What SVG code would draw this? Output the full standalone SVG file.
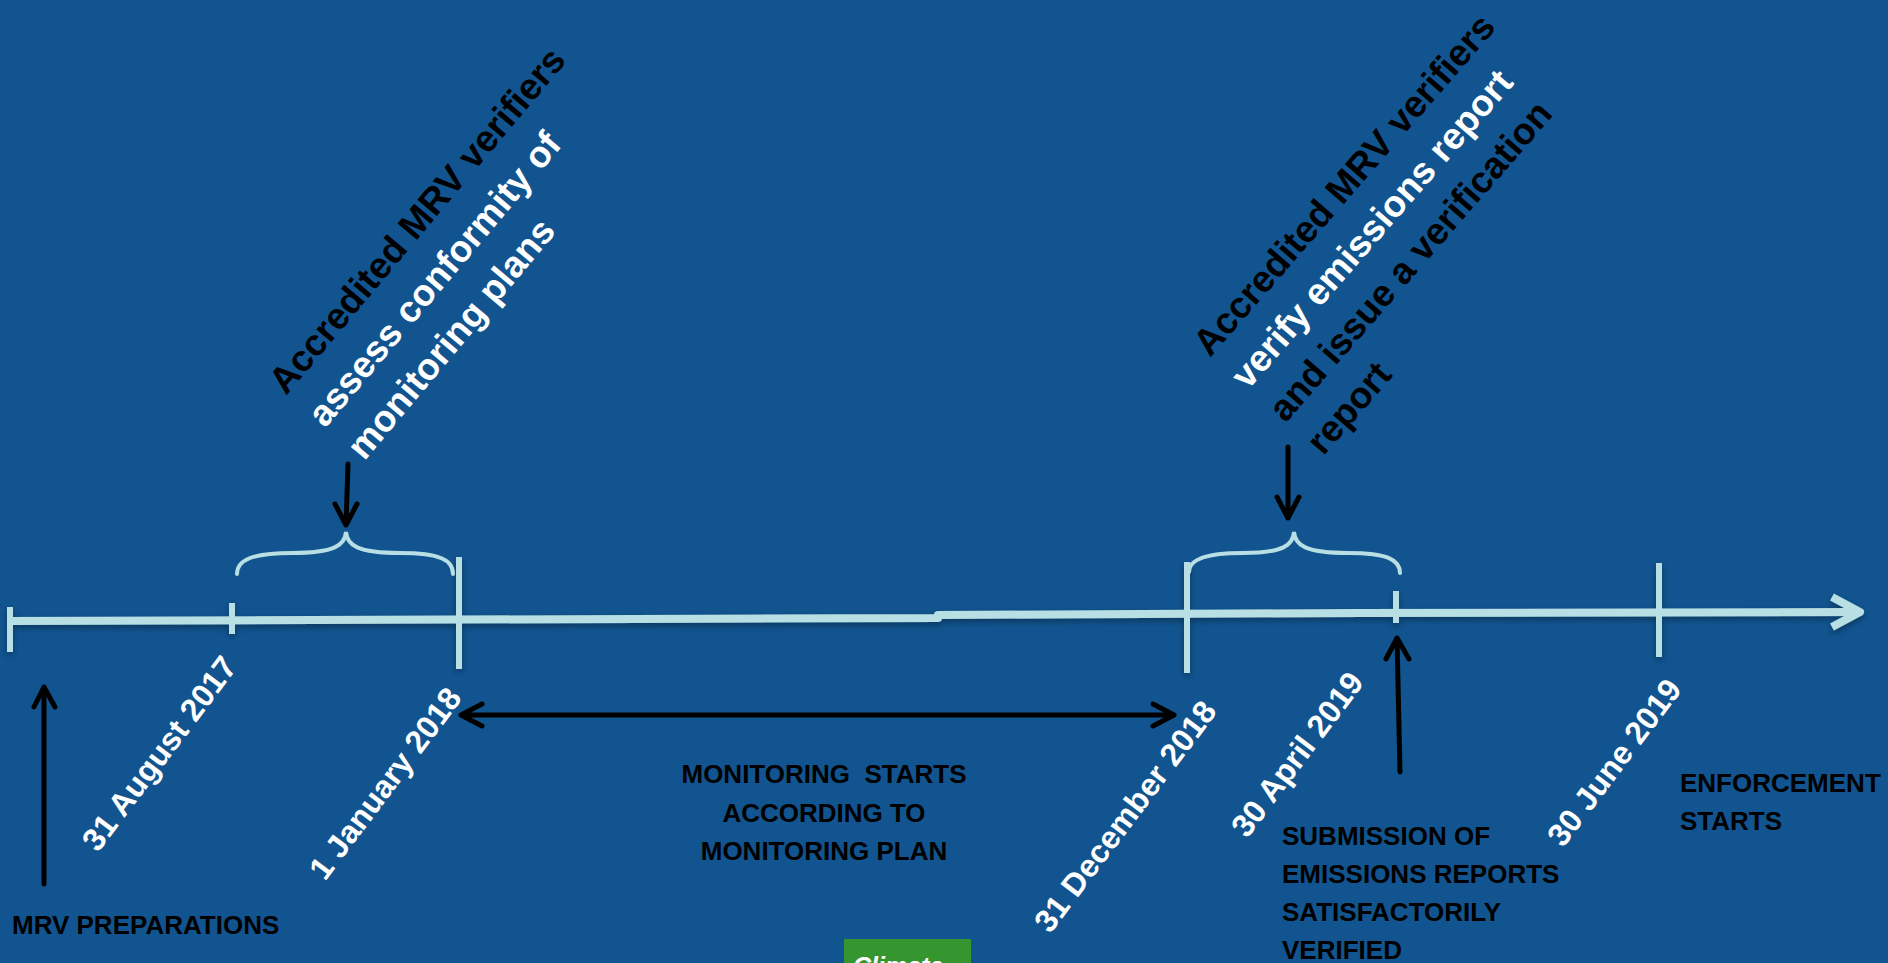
<svg xmlns="http://www.w3.org/2000/svg" width="1888" height="963" viewBox="0 0 1888 963">
<style>
.bg{fill:#11548F}
.tl{fill:none;stroke:#B8DFE3;stroke-width:8;stroke-linecap:butt;stroke-linejoin:round}
.tick{stroke:#B8DFE3;stroke-width:6}
.brace{fill:none;stroke:#B8DFE3;stroke-width:4;stroke-linecap:round}
.arr{fill:none;stroke:#000;stroke-width:5;stroke-linecap:round;stroke-linejoin:round}
.date{font-family:"Liberation Sans",Arial,sans-serif;font-weight:bold;font-size:32px;fill:#fff;text-anchor:middle}
.ann{font-family:"Liberation Sans",Arial,sans-serif;font-weight:bold;font-size:37px}
.lbl{font-family:"Liberation Sans",Arial,sans-serif;font-weight:bold;font-size:26px;fill:#000}
.w{fill:#fff}.k{fill:#000}
</style>
<defs>
<filter id="sh" x="-10%" y="-50%" width="120%" height="300%">
<feDropShadow dx="0" dy="3" stdDeviation="3" flood-color="#000" flood-opacity="0.35"/>
</filter>
</defs>
<rect class="bg" x="0" y="0" width="1888" height="963"/>

<g id="timeline" filter="url(#sh)">
<path class="tl" d="M10,621 L938,618 L938,615 L1360,613 L1858,612"/>
<path class="tl" d="M1832,597 L1860,612 L1832,627" stroke-linecap="round"/>
<line class="tick" x1="10" y1="607" x2="10" y2="652"/>
<line class="tick" x1="232" y1="603" x2="232" y2="634"/>
<line class="tick" x1="459" y1="557" x2="459" y2="669"/>
<line class="tick" x1="1187" y1="562" x2="1187" y2="673"/>
<line class="tick" x1="1396" y1="591" x2="1396" y2="623"/>
<line class="tick" x1="1659" y1="563" x2="1659" y2="657"/>
</g>

<g id="brace1">
<path class="brace" d="M237,574 C237,560 252,553 292,553 C335,553 345,545 346,532 C347,545 357,553 400,553 C440,553 453,560 453,574"/>
</g>
<g id="brace2">
<path class="brace" d="M1189,572 C1189,560 1204,553 1242,553 C1284,553 1293,545 1294,532 C1295,545 1305,553 1348,553 C1388,553 1400,560 1400,573"/>
</g>

<g id="connectors">
<path class="arr" d="M348,464 L346,525 M335,504 L346,525 L357,504"/>
<path class="arr" d="M1288,447 L1288,518 M1277,497 L1288,518 L1299,497"/>
<path class="arr" d="M44,884 L44,687 M34,707 L44,687 L55,707"/>
<path class="arr" d="M1400,772 L1397,638 M1386,659 L1397,638 L1409,659"/>
<path class="arr" d="M461,715 L1174,715 M482,704 L461,715 L482,726 M1153,704 L1174,715 L1153,726"/>
</g>

<g id="annotation1">
<g transform="translate(286,396) rotate(-50)">
<text class="ann k" x="0" y="0">Accredited MRV verifiers</text>
<text class="ann w" x="0" y="51">assess conformity of</text>
<text class="ann w" x="0" y="102">monitoring plans</text>
</g>
</g>
<g id="annotation2">
<g transform="translate(1210,358) rotate(-49)">
<text class="ann k" x="0" y="0">Accredited MRV verifiers</text>
<text class="ann w" x="0" y="50">verify emissions report</text>
<text class="ann k" x="0" y="100">and issue a verification</text>
<text class="ann k" x="0" y="150">report</text>
</g>
</g>

<g id="date-aug2017"><text class="date" transform="translate(168,760) rotate(-53)">31 August 2017</text></g>
<g id="date-jan2018"><text class="date" transform="translate(394,790) rotate(-53)">1 January 2018</text></g>
<g id="date-dec2018"><text class="date" transform="translate(1134,823) rotate(-53)">31 December 2018</text></g>
<g id="date-apr2019"><text class="date" transform="translate(1306,761) rotate(-53)">30 April 2019</text></g>
<g id="date-jun2019"><text class="date" transform="translate(1623,769) rotate(-53)">30 June 2019</text></g>

<g id="mrv-preparations"><text class="lbl" x="12" y="934" font-size="25">MRV PREPARATIONS</text></g>
<g id="monitoring-starts">
<text class="lbl" x="824" y="783" text-anchor="middle" xml:space="preserve">MONITORING  STARTS</text>
<text class="lbl" x="824" y="822" text-anchor="middle">ACCORDING TO</text>
<text class="lbl" x="824" y="860" text-anchor="middle">MONITORING PLAN</text>
</g>
<g id="submission">
<text class="lbl" x="1282" y="845">SUBMISSION OF</text>
<text class="lbl" x="1282" y="883">EMISSIONS REPORTS</text>
<text class="lbl" x="1282" y="921">SATISFACTORILY</text>
<text class="lbl" x="1282" y="959">VERIFIED</text>
</g>
<g id="enforcement">
<text class="lbl" x="1680" y="792">ENFORCEMENT</text>
<text class="lbl" x="1680" y="830">STARTS</text>
</g>
<g id="climate">
<rect x="844" y="939" width="127" height="30" fill="#35952F"/>
<text x="853" y="975" font-family="Liberation Sans,Arial,sans-serif" font-weight="bold" font-style="italic" font-size="25" fill="#fff">Climate</text>
</g>
</svg>
